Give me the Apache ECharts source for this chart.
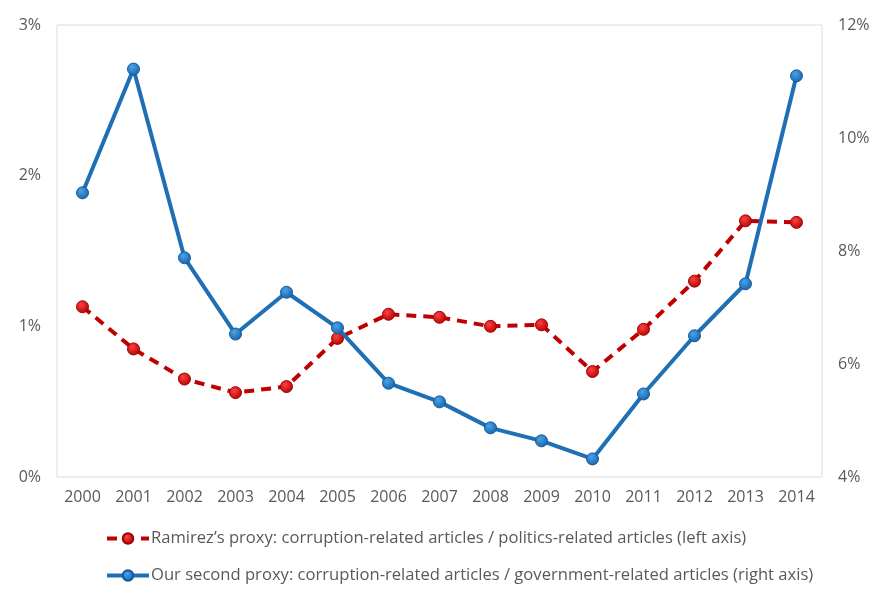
<!DOCTYPE html>
<html>
<head>
<meta charset="utf-8">
<script src="https://cdn.jsdelivr.net/npm/echarts@6/dist/echarts.min.js"></script>
<style>
  html, body { margin: 0; padding: 0; background: #fff; }
  #main { width: 876px; height: 596px; }
</style>
</head>
<body>
<div id="main"></div>
<script>
var years = ['2000', '2001', '2002', '2003', '2004', '2005', '2006', '2007',
  '2008', '2009', '2010', '2011', '2012', '2013', '2014'];
// left axis, percent
var ramirez = [1.13, 0.85, 0.65, 0.56, 0.60, 0.92, 1.08, 1.06, 1.00, 1.01, 0.70, 0.98, 1.30, 1.70, 1.69];
// right axis, percent
var second = [9.03, 11.22, 7.88, 6.53, 7.27, 6.64, 5.66, 5.33, 4.87, 4.64, 4.32, 5.47, 6.50, 7.42, 11.10];

var nameRamirez = 'Ramirez\u2019s proxy: corruption-related articles / politics-related articles (left axis)';
var nameSecond = 'Our second proxy: corruption-related articles / government-related articles (right axis)';

var myChart = echarts.init(document.getElementById('main'));

var labelStyle = { color: '#595959', fontSize: 16, fontFamily: 'Open Sans' };

var option = {
  animation: false,
  grid: {
    left: 57, right: 54, top: 25, bottom: 119,
    show: true, borderColor: '#dcdcdc', borderWidth: 1
  },
  legend: {
    orient: 'vertical',
    left: 100,
    top: 525,
    itemGap: 20,
    itemWidth: 42,
    itemHeight: 13,
    lineStyle: { width: 4 },
    textStyle: { color: '#595959', fontSize: 16.6, fontFamily: 'Open Sans', padding: [0, 0, 0, -3] },
    data: [nameRamirez, nameSecond]
  },
  xAxis: {
    type: 'category',
    data: years,
    boundaryGap: true,
    axisLine: { show: false },
    axisTick: { show: false },
    axisLabel: Object.assign({ margin: 12 }, labelStyle)
  },
  yAxis: [
    {
      type: 'value',
      min: 0, max: 3, interval: 1,
      axisLine: { show: false },
      axisTick: { show: false },
      splitLine: { show: false },
      axisLabel: Object.assign({ margin: 16, formatter: '{value}%' }, labelStyle)
    },
    {
      type: 'value',
      position: 'right',
      min: 4, max: 12, interval: 2,
      axisLine: { show: false },
      axisTick: { show: false },
      splitLine: { show: false },
      axisLabel: Object.assign({ margin: 16, formatter: '{value}%' }, labelStyle)
    }
  ],
  series: [
    {
      name: nameRamirez,
      type: 'line',
      yAxisIndex: 0,
      data: ramirez,
      symbol: 'circle',
      symbolSize: 12,
      lineStyle: { color: '#c00000', width: 4, type: [10, 7] },
      itemStyle: {
        color: new echarts.graphic.RadialGradient(0.4, 0.35, 0.7, [
          { offset: 0, color: '#ff4040' },
          { offset: 1, color: '#b00000' }
        ]),
        borderColor: '#a00000', borderWidth: 1
      },
      z: 2
    },
    {
      name: nameSecond,
      type: 'line',
      yAxisIndex: 1,
      data: second,
      symbol: 'circle',
      symbolSize: 12,
      lineStyle: { color: '#1f6fb5', width: 4 },
      itemStyle: {
        color: new echarts.graphic.RadialGradient(0.4, 0.35, 0.7, [
          { offset: 0, color: '#4aa3e8' },
          { offset: 1, color: '#1660a8' }
        ]),
        borderColor: '#15599a', borderWidth: 1
      },
      z: 3
    }
  ]
};
myChart.setOption(option);
</script>
</body>
</html>
